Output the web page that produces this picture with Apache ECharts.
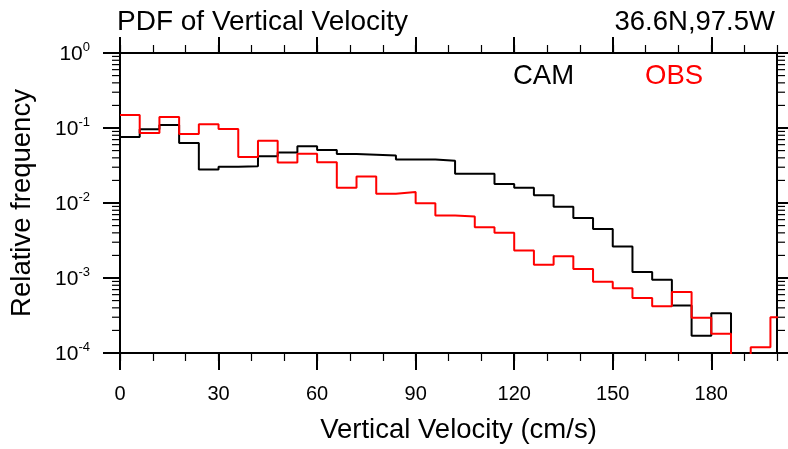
<!DOCTYPE html>
<html>
<head>
<meta charset="utf-8">
<script src="https://cdn.jsdelivr.net/npm/echarts@6/dist/echarts.min.js"></script>
<style>
html, body { margin: 0; padding: 0; background: #fff; }
#chart { width: 788px; height: 449px; }
</style>
</head>
<body>
<div id="chart"></div>
<script>
// histogram bins, 6 cm/s wide starting at 0
var binWidth = 6;
var camFreq = [0.076, 0.096, 0.110, 0.063, 0.028, 0.0305, 0.031, 0.042, 0.047, 0.057,
    0.051, 0.045, 0.044, 0.043, 0.038, 0.038, 0.0367, 0.0245, 0.0245, 0.0179,
    0.016, 0.0127, 0.0089, 0.0063, 0.0045, 0.00264, 0.0012, 0.00095, 0.00043, 0.00017,
    0.00034, 0, 0, 0];
var obsFreq = [0.149, 0.086, 0.140, 0.083, 0.112, 0.097, 0.041, 0.0675, 0.0346, 0.0455,
    0.035, 0.016, 0.0226, 0.0133, 0.014, 0.00995, 0.0068, 0.0066, 0.00475, 0.004,
    0.00233, 0.0015, 0.00195, 0.00132, 0.00089, 0.00073, 0.00054, 0.00042, 0.00065, 0.000296,
    0.00018, 0, 0.000119, 0.0003];
var xTicks = [0, 30, 60, 90, 120, 150, 180];
var yDecades = [1e-4, 1e-3, 1e-2, 1e-1, 1];
var xMin = 0, xMax = 200;

var font = 'Liberation Sans, Arial, Helvetica, sans-serif';

// empty bins sit far below the axis so the step drops out of the plot
function stepData(freq) {
    var pts = [];
    for (var i = 0; i < freq.length; i++) {
        pts.push([i * binWidth, freq[i] > 0 ? freq[i] : 1e-7]);
    }
    pts.push([freq.length * binWidth, pts[pts.length - 1][1]]);
    return pts;
}

// minor ticks 2..9 in each decade
var minorY = [];
for (var d = 0; d < yDecades.length - 1; d++) {
    for (var k = 2; k <= 9; k++) minorY.push([xMin, yDecades[d] * k]);
}

var lineBlack = {color: '#000', width: 2};
var tickMinor = {color: '#000', width: 1.2};

function xAxisPair(pos, withLabels) {
    var major = {
        type: 'value', position: pos, min: xMin, max: xMax, interval: 30,
        axisLine: {onZero: false, lineStyle: lineBlack},
        axisTick: {length: pos == 'top' ? 16 : 17, lineStyle: lineBlack, customValues: xTicks},
        axisLabel: withLabels ? {customValues: xTicks, margin: 31, fontSize: 20, color: '#000', fontFamily: font} : {show: false},
        splitLine: {show: false}
    };
    var minor = {
        type: 'value', position: pos, min: xMin, max: xMax, interval: 10,
        axisLine: {show: false},
        axisTick: {length: 8, lineStyle: tickMinor},
        axisLabel: {show: false},
        splitLine: {show: false}
    };
    return [major, minor];
}

function yAxisMajor(pos, withLabels) {
    return {
        type: 'log', logBase: 10, position: pos, min: 1e-4, max: 1,
        axisLine: {onZero: false, lineStyle: lineBlack},
        axisTick: {length: pos == 'left' ? 17 : 11, lineStyle: lineBlack},
        axisLabel: withLabels ? {
            margin: 30,
            formatter: function (v) {
                return '{b|10}{s|' + Math.round(Math.log10(v)) + '}';
            },
            rich: {
                b: {fontSize: 21, color: '#000', fontFamily: font, lineHeight: 24, verticalAlign: 'bottom'},
                s: {fontSize: 13, color: '#000', fontFamily: font, lineHeight: 24, verticalAlign: 'top'}
            }
        } : {show: false},
        splitLine: {show: false}
    };
}

var xAxes = xAxisPair('bottom', true).concat(xAxisPair('top', false));
xAxes[0].name = 'Vertical Velocity (cm/s)';
xAxes[0].nameLocation = 'middle';
xAxes[0].nameGap = 63;
xAxes[0].nameTextStyle = {fontSize: 27.5, color: '#000', fontFamily: font, padding: [0, 0, 0, 20]};

var yAxes = [yAxisMajor('left', true), yAxisMajor('right', false)];
yAxes[0].name = 'Relative frequency';
yAxes[0].nameLocation = 'middle';
yAxes[0].nameGap = 84;
yAxes[0].nameTextStyle = {fontSize: 27.5, color: '#000', fontFamily: font};

var chart = echarts.init(document.getElementById('chart'));
chart.setOption({
    animation: false,
    title: [
        {text: 'PDF of Vertical Velocity', left: 117, top: 8, padding: 0,
            textStyle: {fontSize: 28, fontWeight: 'normal', color: '#000', fontFamily: font}},
        {text: '36.6N,97.5W', right: 13, top: 8, padding: 0,
            textStyle: {fontSize: 27.5, fontWeight: 'normal', color: '#000', fontFamily: font}}
    ],
    graphic: [
        {type: 'text', left: 513, top: 62, style: {text: 'CAM', fontSize: 27.5, fill: '#000', fontFamily: font}},
        {type: 'text', left: 645, top: 62, style: {text: 'OBS', fontSize: 27.5, fill: '#ff0000', fontFamily: font}}
    ],
    grid: {left: 120, right: 11, top: 53, bottom: 93, containLabel: false},
    xAxis: xAxes,
    yAxis: yAxes,
    series: [
        {
            // log minor ticks on left and right frame, placed through the axis scale
            type: 'custom', silent: true, clip: false,
            xAxisIndex: 0, yAxisIndex: 0,
            renderItem: function (params, api) {
                var p = api.coord([xMin, api.value(1)]);
                var q = api.coord([xMax, api.value(1)]);
                return {
                    type: 'group',
                    children: [
                        {type: 'line', shape: {x1: p[0] - 8, y1: p[1], x2: p[0], y2: p[1]}, style: {stroke: '#000', lineWidth: 1.2}},
                        {type: 'line', shape: {x1: q[0], y1: q[1], x2: q[0] + 8, y2: q[1]}, style: {stroke: '#000', lineWidth: 1.2}}
                    ]
                };
            },
            data: minorY
        },
        {
            name: 'CAM', type: 'line', step: 'end', showSymbol: false, clip: true,
            xAxisIndex: 0, yAxisIndex: 0,
            lineStyle: {color: '#000', width: 2},
            data: stepData(camFreq)
        },
        {
            name: 'OBS', type: 'line', step: 'end', showSymbol: false, clip: true,
            xAxisIndex: 0, yAxisIndex: 0,
            lineStyle: {color: '#ff0000', width: 2},
            data: stepData(obsFreq)
        }
    ]
});
</script>
</body>
</html>
